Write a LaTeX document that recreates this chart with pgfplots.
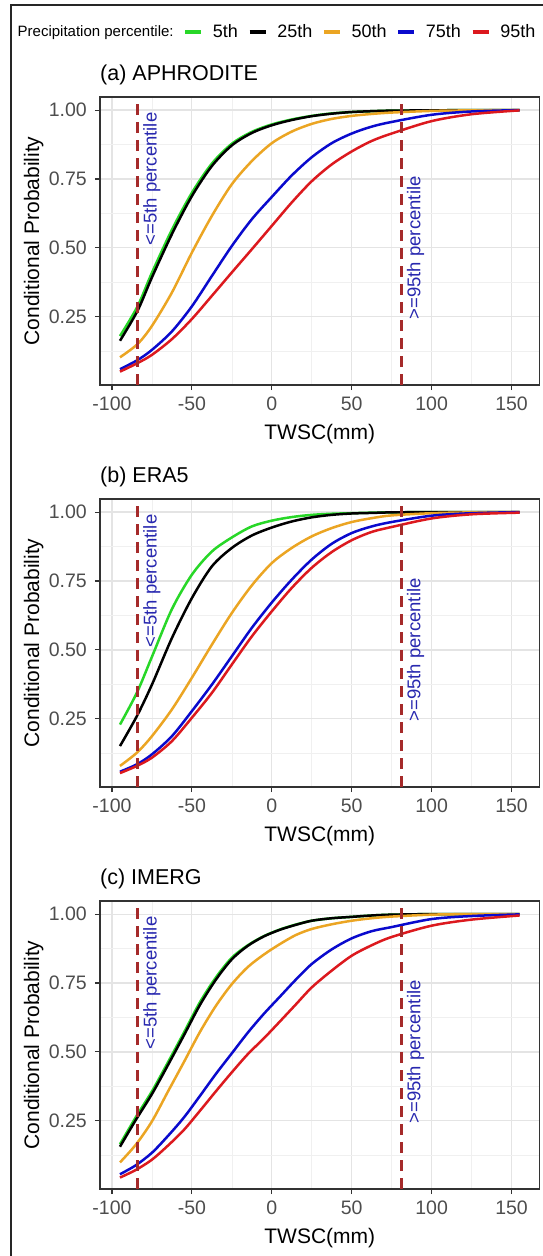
\documentclass[border=0pt]{standalone}
\usepackage{fontspec}
\setmainfont{Liberation Sans}
\usepackage{pgfplots}
\usepackage{pgfplotstable}
\pgfplotsset{compat=1.18}

\definecolor{cg}{RGB}{40,215,40}
\definecolor{co}{RGB}{235,165,35}
\definecolor{cb}{RGB}{10,10,205}
\definecolor{cr}{RGB}{220,25,30}
\definecolor{vl}{RGB}{165,42,42}
\definecolor{ann}{RGB}{40,40,175}
\definecolor{gmaj}{RGB}{228,228,228}
\definecolor{gmin}{RGB}{240,240,240}
\definecolor{g20}{RGB}{51,51,51}
\definecolor{g30}{RGB}{77,77,77}

\newcommand\ticksize{\fontsize{19.5}{23}\selectfont}
\newcommand\labsize{\fontsize{21}{25}\selectfont}
\newcommand\titsize{\fontsize{21.5}{26}\selectfont}
\newcommand\annsize{\fontsize{18.5}{22}\selectfont}
\newcommand\legsize{\fontsize{18}{22}\selectfont}
\newcommand\legtitsize{\fontsize{15}{18}\selectfont}

\pgfplotstableread{
x      g      k      o      b      r
-95    0.180  0.163  0.103  0.060  0.051
-84    0.288  0.272  0.151  0.093  0.082
-75    0.410  0.393  0.217  0.130  0.112
-62.5  0.566  0.550  0.338  0.197  0.169
-50    0.700  0.688  0.483  0.288  0.242
-37.5  0.806  0.797  0.616  0.398  0.326
-25    0.878  0.872  0.731  0.507  0.411
-12.5  0.921  0.917  0.815  0.604  0.495
0      0.948  0.945  0.880  0.685  0.580
12.5   0.966  0.964  0.922  0.763  0.665
25     0.979  0.978  0.950  0.829  0.742
37.5   0.988  0.987  0.968  0.880  0.803
50     0.993  0.993  0.979  0.915  0.850
62.5   0.996  0.996  0.986  0.940  0.888
75     0.998  0.998  0.991  0.957  0.915
100    0.999  0.999  0.997  0.983  0.960
125    1.000  1.000  0.999  0.995  0.985
155    1.000  1.000  1.000  1.000  0.999
}\tabA

\pgfplotstableread{
x      g      k      o      b      r
-95    0.229  0.151  0.079  0.058  0.053
-84.4  0.345  0.260  0.127  0.085  0.079
-75    0.475  0.374  0.187  0.121  0.109
-62.5  0.648  0.543  0.284  0.187  0.169
-50    0.773  0.688  0.399  0.278  0.254
-37.5  0.857  0.803  0.519  0.374  0.344
-25    0.908  0.870  0.634  0.477  0.447
-12.5  0.948  0.915  0.734  0.580  0.549
0      0.969  0.944  0.815  0.672  0.640
12.5   0.982  0.966  0.870  0.755  0.725
25     0.990  0.981  0.912  0.828  0.798
37.5   0.994  0.990  0.942  0.885  0.855
50     0.996  0.995  0.964  0.924  0.898
62.5   0.998  0.997  0.978  0.948  0.928
75     0.999  0.999  0.988  0.964  0.946
100    1.000  1.000  0.996  0.987  0.977
125    1.000  1.000  0.999  0.996  0.992
155    1.000  1.000  1.000  1.000  0.998
}\tabB

\pgfplotstableread{
x      g      k      o      b      r
-95    0.165  0.156  0.099  0.056  0.044
-85    0.264  0.254  0.164  0.089  0.072
-75    0.357  0.347  0.248  0.134  0.109
-65    0.462  0.452  0.356  0.195  0.160
-55    0.570  0.560  0.463  0.262  0.217
-45    0.680  0.670  0.572  0.340  0.286
-35    0.770  0.762  0.667  0.420  0.357
-25    0.842  0.836  0.746  0.495  0.426
-15    0.887  0.885  0.808  0.570  0.492
-5     0.920  0.919  0.853  0.638  0.549
5      0.944  0.943  0.891  0.700  0.610
15     0.962  0.961  0.924  0.762  0.672
25     0.976  0.976  0.946  0.819  0.734
37.5   0.985  0.985  0.963  0.872  0.795
50     0.990  0.990  0.976  0.912  0.849
62.5   0.995  0.995  0.985  0.938  0.887
75     0.998  0.998  0.991  0.953  0.917
100    1.000  1.000  0.998  0.982  0.958
125    1.000  1.000  1.000  0.993  0.980
155    1.000  1.000  1.000  0.999  0.995
}\tabC

\pgfplotsset{
  panel/.style={
    width=439.5pt, height=288pt, scale only axis, anchor=south west,
    xmin=-107.5, xmax=167.5, ymin=0.0025, ymax=1.0475,
    xtick={-100,-50,0,50,100,150}, xticklabels={-100,-50,0,50,100,150},
    ytick={0.25,0.5,0.75,1}, yticklabels={0.25,0.50,0.75,1.00},
    minor xtick={-75,-25,25,75,125}, minor ytick={0.125,0.375,0.625,0.875},
    grid=both,
    major grid style={color=gmaj, line width=1.2pt},
    minor grid style={color=gmin, line width=0.6pt},
    axis line style={color=g20, line width=1.1pt},
    tick style={color=g20, line width=1.1pt},
    tick align=outside, major tick length=5pt, minor tick length=0pt,
    xtick pos=bottom, ytick pos=left,
    tick label style={font=\ticksize, color=g30},
    xticklabel style={inner sep=0pt, anchor=north, yshift=-7pt},
    yticklabel style={inner sep=0pt, anchor=east, xshift=-8pt},
    legend image code/.code={\draw[#1, line width=3.5pt] (0pt,0pt) -- (16pt,0pt);},
  },
  crv/.style={line width=2.5pt, smooth, tension=0.5, no markers},
  vln/.style={color=vl, line width=3pt, dash pattern=on 11pt off 7pt, forget plot},
}

\begin{document}
\begin{tikzpicture}[x=1pt,y=1pt]
\path[use as bounding box] (0,0) rectangle (543,-1256);
\draw[line width=1.4pt, color=black!85] (11,-1270) -- (11,-5) -- (560,-5);

% ---------- panel (a)
\begin{axis}[panel, at={(100pt,-385pt)},
  legend columns=-1,
  legend style={at={(-0.2102,1.2257)}, anchor=west, draw=none, fill=none,
    inner sep=0pt, font=\legsize, text=black,
    nodes={inner sep=0pt},
    /tikz/every odd column/.append style={column sep=9.9pt},
    /tikz/every even column/.append style={column sep=9.9pt}},
  ]
\addlegendimage{empty legend}
\addlegendentry{\legtitsize Precipitation percentile:}
\addplot[crv, color=cg] table[x=x, y=g] {\tabA}; \addlegendentry{5th}
\addplot[crv, color=black] table[x=x, y=k] {\tabA}; \addlegendentry{25th}
\addplot[crv, color=co] table[x=x, y=o] {\tabA}; \addlegendentry{50th}
\addplot[crv, color=cb] table[x=x, y=b] {\tabA}; \addlegendentry{75th}
\addplot[crv, color=cr] table[x=x, y=r] {\tabA}; \addlegendentry{95th}
\addplot[vln] coordinates {(-84,0.0025) (-84,1.0475)};
\addplot[vln] coordinates {(81,0.0025) (81,1.0475)};
\node[rotate=90, font=\annsize, text=ann] at (axis cs:-75,0.75) {<=5th percentile};
\node[rotate=90, font=\annsize, text=ann] at (axis cs:90,0.5) {>=95th percentile};
\end{axis}

% ---------- panel (b)
\begin{axis}[panel, at={(100pt,-787pt)}]
\addplot[crv, color=cg] table[x=x, y=g] {\tabB};
\addplot[crv, color=black] table[x=x, y=k] {\tabB};
\addplot[crv, color=co] table[x=x, y=o] {\tabB};
\addplot[crv, color=cb] table[x=x, y=b] {\tabB};
\addplot[crv, color=cr] table[x=x, y=r] {\tabB};
\addplot[vln] coordinates {(-84,0.0025) (-84,1.0475)};
\addplot[vln] coordinates {(81,0.0025) (81,1.0475)};
\node[rotate=90, font=\annsize, text=ann] at (axis cs:-75,0.75) {<=5th percentile};
\node[rotate=90, font=\annsize, text=ann] at (axis cs:90,0.5) {>=95th percentile};
\end{axis}

% ---------- panel (c)
\begin{axis}[panel, at={(100pt,-1189pt)}]
\addplot[crv, color=cg] table[x=x, y=g] {\tabC};
\addplot[crv, color=black] table[x=x, y=k] {\tabC};
\addplot[crv, color=co] table[x=x, y=o] {\tabC};
\addplot[crv, color=cb] table[x=x, y=b] {\tabC};
\addplot[crv, color=cr] table[x=x, y=r] {\tabC};
\addplot[vln] coordinates {(-84,0.0025) (-84,1.0475)};
\addplot[vln] coordinates {(81,0.0025) (81,1.0475)};
\node[rotate=90, font=\annsize, text=ann] at (axis cs:-75,0.75) {<=5th percentile};
\node[rotate=90, font=\annsize, text=ann] at (axis cs:90,0.5) {>=95th percentile};
\end{axis}

% ---------- titles and axis labels
\foreach \top/\bot/\ttl in {97/385/(a) APHRODITE, 499/787/(b) ERA5, 901/1189/(c) IMERG}{
  \node[anchor=base west, inner sep=0pt, font=\titsize] at (100,-\top+16.3) {\ttl};
  \node[anchor=base, inner sep=0pt, font=\labsize] at (319.75,-\bot-54.5) {TWSC(mm)};
  \pgfmathsetmacro\mid{-(\top+\bot)/2}
  \node[anchor=base, rotate=90, inner sep=0pt, font=\labsize] at (39,\mid) {Conditional Probability};
}
\end{tikzpicture}
\end{document}
